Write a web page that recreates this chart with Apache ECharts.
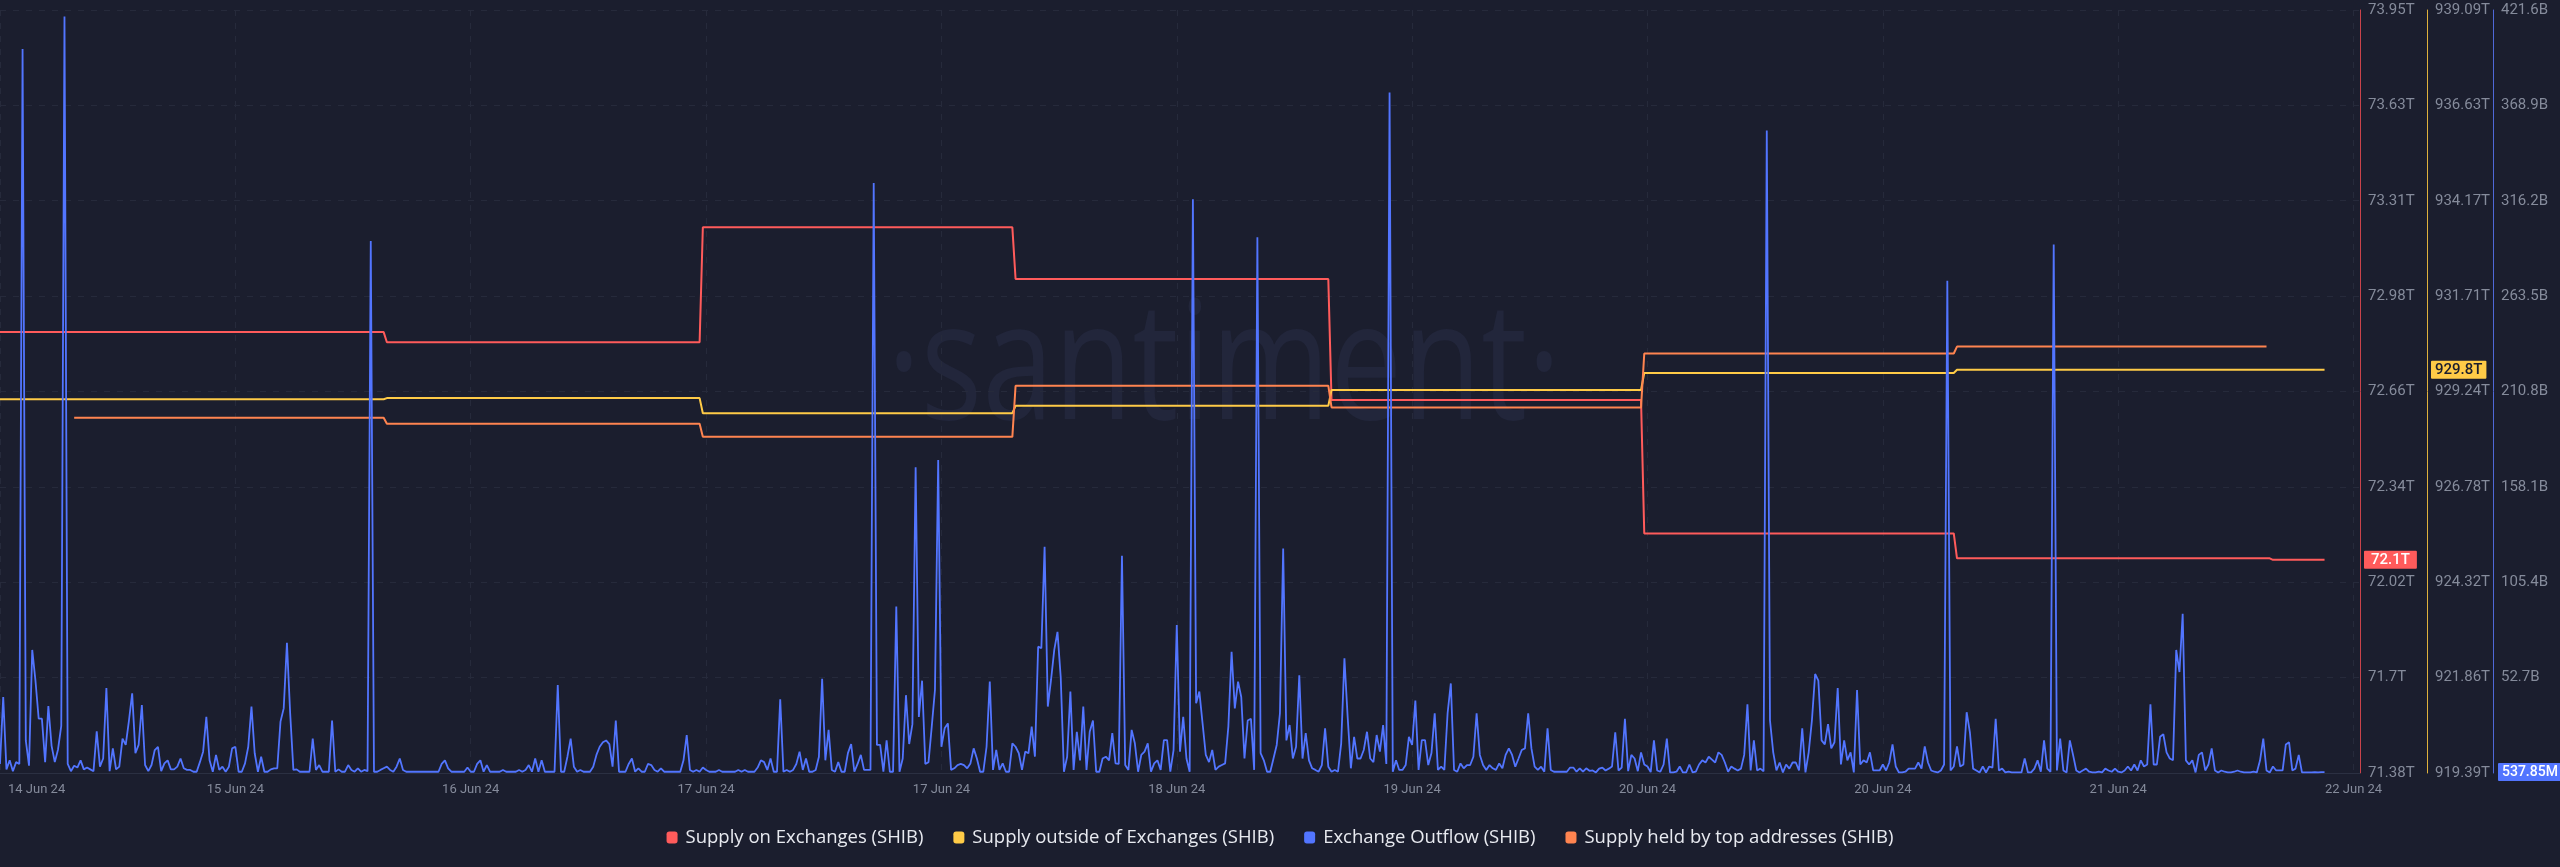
<!DOCTYPE html>
<html>
<head>
<meta charset="utf-8">
<script src="https://cdn.jsdelivr.net/npm/echarts@6/dist/echarts.min.js"></script>
<style>
html,body{margin:0;padding:0;background:#1b1e2e;}
#chart{width:2560px;height:867px;}
</style>
</head>
<body>
<div id="chart"></div>
<script>
// ---- tick labels ----
const xTickLabels = ['14 Jun 24','15 Jun 24','16 Jun 24','17 Jun 24','17 Jun 24','18 Jun 24','19 Jun 24','20 Jun 24','20 Jun 24','21 Jun 24','22 Jun 24'];
const redTickLabels = ['71.38T','71.7T','72.02T','72.34T','72.66T','72.98T','73.31T','73.63T','73.95T'];
const yelTickLabels = ['919.39T','921.86T','924.32T','926.78T','929.24T','931.71T','934.17T','936.63T','939.09T'];
const bluTickLabels = ['','52.7B','105.4B','158.1B','210.8B','263.5B','316.2B','368.9B','421.6B'];

// ---- series names ----
const seriesNames = ['Supply on Exchanges (SHIB)','Supply outside of Exchanges (SHIB)','Exchange Outflow (SHIB)','Supply held by top addresses (SHIB)'];

// ---- Supply on Exchanges (T), breakpoints at 15-min step index ----
const redIdx = [0,119,120,217,218,314,315,412,413,509,510,606,607,704,705,721];
const redVal = [72.865,72.865,72.831,72.831,73.218,73.218,73.044,73.044,72.636,72.636,72.187,72.187,72.103,72.103,72.098,72.098];

// ---- Supply outside of Exchanges (T) ----
const yelIdx = [0,119,120,217,218,314,315,412,413,509,510,606,607,721];
const yelVal = [929.04,929.04,929.07,929.07,928.68,928.68,928.87,928.87,929.28,929.28,929.72,929.72,929.80,929.80];

// ---- Supply held by top addresses (T, hidden axis) ----
const orgIdx = [23,119,120,217,218,314,315,412,413,509,510,606,607,703];
const orgVal = [928.56,928.56,928.41,928.41,928.07,928.07,929.39,929.39,928.83,928.83,930.22,930.22,930.40,930.40];

// ---- Exchange Outflow (B), one value per 15-min step ----
const bluVal = [
5,42,2,7,1,6,5,400,18,4,
68,51,30,30,6,37,15,6,13,26,
418,5,1,4,3,7,2,3,2,1,
23,3.5,8,47,1,13.6,2,3.5,19,15.5,
29,44,11,15.5,37.6,4.4,1,4.4,12.7,14.5,
1,5.3,7,2,2,3.5,8,2.6,1.7,1.7,
0.7,0.7,6,11.8,31,7,0.7,10,1.7,3.5,
0.7,3.5,13.6,14.5,0.7,0.7,5.3,14.5,36.7,10.9,
0.7,9,0.7,0.7,2,2.6,2.6,28.4,35.7,72,
33,1.7,2,0.7,0.7,0.7,0.7,19,1.7,4.4,
0.7,0.7,0.7,29,0.7,2,0.7,0.7,4.4,1.7,
0.7,2.6,0.7,1.7,1,294,0.7,0.7,1.7,2.6,
3.5,1.7,0.7,3.5,8,1.7,0.7,0.7,0.7,0.7,
0.7,0.7,0.7,0.7,0.7,0.7,0.7,5,7,2.6,
0.7,0.7,0.7,0.7,0.7,3,0.7,0.7,5,7,
0.7,4.4,0.7,0.7,0.7,0.7,1.7,0.7,0.7,0.7,
0.7,1.7,0.7,1.7,4.4,0.7,8,0.7,7,0.7,
0.7,0.7,0.7,48.6,0.7,0.7,9,19,3.5,0.7,
1.7,0.7,0.7,0.7,3.5,10,14.5,17,18,16,
3.5,29,0.7,0.7,0.7,5,8,0.7,2.6,0.7,
0.7,5,4.4,1.7,0.7,2.6,0.7,0.7,0.7,0.7,
0.7,0.7,7,21,1.7,0.7,1.7,0.7,3,1.7,
0.7,0.7,0.7,1.7,0.7,0.7,0.7,0.7,0.7,1.7,
0.7,1.7,0.7,0.7,0.7,3,7,6,1.7,8,
0.7,0.7,40.7,0.7,1.7,0.7,1.7,5,11.8,1.7,
8,0.7,0.7,1.7,9,52,7,23.8,1.7,0.7,
6,0.7,0.7,11,16,0.7,5,10,1.7,1.7,
1.7,326,15.5,15.5,0.7,18,0.7,0.7,92,0.7,
8,43,16,27,169,31,51,5,6,25.6,
46,173,14.5,24.7,27.4,1.7,2.6,4.4,5,4.4,
2.6,5.3,13.6,8,0.7,0.7,14.5,50.5,1.7,12.7,
1.7,5.3,0.7,0.7,16.4,14.5,10.9,1.7,11.8,10.9,
25.6,9,69.8,68.9,125,36.7,51.4,68,78,53,
0.7,9,45,1.7,22.8,7,36.7,1.7,22.8,29,
0.7,0.7,8,9,7,22,5.3,5,120,4.4,
1.7,23.8,16.4,0.7,10,11.8,16.4,0.7,5.3,7,
1.7,18.2,18.2,0.7,12.7,81.8,11.8,31,8,0.7,
317,38.5,45,27.4,10,6,12.7,1.7,3.5,4.4,
5.3,25.6,67,35.7,50.5,42,8,29,30,1.7,
296,11,7,0.7,0.7,8,15.5,33,124,18,
26.5,8,14.5,54,8,22,7,2.6,1.7,0.7,
4.4,24.7,3.5,0.7,1.7,0.7,16.4,63.4,31,2.6,
20,8,8,12.7,22.8,8,6,21,11.8,26.5,
5,376,0.7,7,1.7,1.7,4.4,20,15.5,40,
1.7,18.2,18.2,4.4,11,33,1.7,3.5,1.7,33,
49.5,1.7,0.7,5.3,2.6,4.4,4.4,9,33,10,
4.4,1.7,4.4,2.6,1.7,5.3,2.6,10,13.6,10,
3.5,8,12.7,13.6,33,13.6,3.5,1.7,3.5,0.7,
24.7,1.7,0.7,0.7,0.7,0.7,0.7,3,3,0.7,
2.6,0.7,2.6,1.2,1.4,0.3,2.4,3,1.4,2.4,
3.6,22.5,1.4,3,30,1,10,8,1,11.4,
4.7,3.6,0.5,18,1.4,0.7,4.7,19,0.3,0.3,
0.7,3.6,0.3,0.3,4.7,0.3,0.7,4.7,7,5.8,
9,7.4,5.8,11.4,10,5.8,0.7,3.6,2.4,1.4,
2.4,10,38,1.4,18,1.4,2.4,1,355,29,
11.4,1.4,5.8,0.3,4.7,2.4,5.8,5.8,1.4,24.7,
0.3,11.4,29,54.7,51,18,15.8,27,13.6,17,
47,4.7,18,7,11.4,0.3,45.8,4.7,7,5.8,
11.4,1.4,1.4,1.4,4.7,1.4,5.8,15.8,3.6,0.3,
0.3,0.7,2.4,2.4,2.4,5.8,2.4,14.7,5.8,1.4,
0.7,0.3,1.4,4.7,272,1.4,3.6,14.7,3.6,4.7,
33.6,22.5,2.4,1.4,0.3,3.6,0.3,3.6,3,30,
1.4,2.4,0.3,0.7,0.3,0.3,0.3,0.3,8,0.3,
0.3,2.4,7,0.7,18,2.4,0.7,292,1.4,19,
1.4,0.3,18,10,1.4,0.3,1.4,2.4,0.7,0.3,
0.3,0.7,0.3,2.4,1.4,0.7,2.4,0.7,0.3,1.4,
3.6,1.4,4.7,1.4,7,3.6,4.7,38,4.7,4.7,
20,21.4,11.4,8,7,68,55.8,88,7,4.7,
7,0.3,10,11.4,1.4,4.7,13.6,1.4,0.3,1.4,
0.7,0.3,0.3,0.7,1.4,0.7,0.3,0.3,0.3,0.7,
0.3,7,19,1.4,0.3,3.6,1.4,1.4,1.4,15.8,
17,1.4,2.4,10,0.3,0.3,0.3,0.3,0.5,0.3,
0.5,0.53785
];

// ---- axis ranges ----
const X_MIN = 0, X_MAX = 732, X_INT = 73;
const RED_MIN = 71.38, RED_MAX = 73.95;
const YEL_MIN = 919.39, YEL_MAX = 939.09;
const BLU_MIN = 0, BLU_MAX = 421.6;

const BG = '#1b1e2e';
const RED = '#ff5b5b', YEL = '#ffcb47', BLU = '#5275ff', ORG = '#ff8450';
const LABEL = '#858b9b';
const GRID = '#262a3b';
const FONT = 'Roboto, "Noto Sans", sans-serif';
const LEGEND_FONT = '"Open Sans", Roboto, sans-serif';

const pairs = (idx, val) => idx.map((x, i) => [x, val[i]]);
const redLast = redVal[redVal.length - 1];
const yelLast = yelVal[yelVal.length - 1];
const bluLast = bluVal[bluVal.length - 1];

function idxLabel(labels, min, max) {
  const step = (max - min) / (labels.length - 1);
  return function (v) {
    const k = Math.round((v - min) / step);
    if (Math.abs(v - (min + k * step)) > step * 1e-3) return '';
    return labels[k] !== undefined ? labels[k] : '';
  };
}

function yAxisDef(labels, min, max, color, offset, split) {
  return {
    type: 'value', position: 'right', offset: offset,
    min: min, max: max, interval: (max - min) / (labels.length - 1),
    axisLine: { show: true, onZero: false, lineStyle: { color: color, width: 1 } },
    axisTick: { show: false },
    splitLine: { show: split, lineStyle: { color: GRID, type: [6, 7], width: 1 } },
    axisLabel: { color: LABEL, fontSize: 15, fontFamily: FONT, margin: 8, formatter: idxLabel(labels, min, max) }
  };
}

function lastMark(text, bg, fg, offsetX, size, pad) {
  return {
    symbol: 'circle', symbolSize: 0, silent: true, animation: false,
    label: {
      show: true, position: 'right', distance: 4, offset: [offsetX, 0],
      formatter: () => text, backgroundColor: bg, color: fg,
      fontSize: size, fontWeight: 500, fontFamily: FONT, lineHeight: 15, padding: pad, borderRadius: 1
    }
  };
}

const chart = echarts.init(document.getElementById('chart'), null, { renderer: 'canvas' });

const redMark = lastMark(redLast.toFixed(1) + 'T', RED, '#ffffff', 0, 15, [2, 7, 1, 7]);
redMark.data = [{ coord: [X_MAX, redLast] }];
const yelMark = lastMark(yelLast.toFixed(1) + 'T', YEL, '#1b1e2e', 67, 15, [2, 4, 1, 4]);
yelMark.data = [{ coord: [X_MAX, yelLast] }];
const bluMark = lastMark((bluLast * 1000).toFixed(2) + 'M', BLU, '#ffffff', 134, 14, [2, 4, 1, 4]);
bluMark.data = [{ coord: [X_MAX, bluLast] }];

chart.setOption({
  backgroundColor: BG,
  animation: false,
  textStyle: { fontFamily: FONT },
  grid: { left: 0, right: 200, top: 10, bottom: 94, containLabel: false },
  graphic: [{
    type: 'text', x: 1224, y: 372, scaleX: 0.78, z: 0, silent: true,
    style: { text: '\u00B7santiment\u00B7', font: '400 165px "Open Sans", sans-serif', fill: '#22263b', align: 'center', verticalAlign: 'middle' }
  }],
  legend: {
    left: 'center', top: 823, itemWidth: 11, itemHeight: 12, itemGap: 30, icon: 'roundRect',
    selectedMode: false,
    textStyle: { color: '#e8eaf0', fontSize: 18.5, fontFamily: LEGEND_FONT, padding: [0, 0, 0, 3] },
    data: seriesNames
  },
  xAxis: {
    type: 'value', min: X_MIN, max: X_MAX, interval: X_INT,
    axisLine: { show: true, onZero: false, lineStyle: { color: '#2b3042' } },
    axisTick: { show: false },
    splitLine: { show: true, lineStyle: { color: GRID, type: [6, 7], width: 1 } },
    axisLabel: {
      color: LABEL, fontSize: 13, fontFamily: FONT, margin: 10, alignMinLabel: 'left',
      formatter: function (v) {
        const k = Math.round((v - X_MIN) / X_INT);
        if (Math.abs(v - (X_MIN + k * X_INT)) > 1e-6 || xTickLabels[k] === undefined) return '';
        return k === 0 ? '{f|' + xTickLabels[k] + '}' : xTickLabels[k];
      },
      rich: { f: { color: LABEL, fontSize: 13, fontFamily: FONT, padding: [0, 0, 0, 8] } }
    }
  },
  yAxis: [
    yAxisDef(redTickLabels, RED_MIN, RED_MAX, '#c9434b', 0, true),
    yAxisDef(yelTickLabels, YEL_MIN, YEL_MAX, '#e0b13c', 67, false),
    yAxisDef(bluTickLabels, BLU_MIN, BLU_MAX, '#4f68d8', 133, false),
    { type: 'value', show: false, position: 'right', min: YEL_MIN, max: YEL_MAX, axisLine: { onZero: false } }
  ],
  series: [
    { name: seriesNames[0], type: 'line', yAxisIndex: 0, data: pairs(redIdx, redVal), showSymbol: false, z: 2,
      lineStyle: { color: RED, width: 2 }, itemStyle: { color: RED }, markPoint: redMark },
    { name: seriesNames[1], type: 'line', yAxisIndex: 1, data: pairs(yelIdx, yelVal), showSymbol: false, z: 2,
      lineStyle: { color: YEL, width: 2 }, itemStyle: { color: YEL }, markPoint: yelMark },
    { name: seriesNames[3], type: 'line', yAxisIndex: 3, data: pairs(orgIdx, orgVal), showSymbol: false, z: 2,
      lineStyle: { color: ORG, width: 2 }, itemStyle: { color: ORG } },
    { name: seriesNames[2], type: 'line', yAxisIndex: 2, data: bluVal.map((v, i) => [i, v]), showSymbol: false, z: 3,
      sampling: 'none', lineStyle: { color: BLU, width: 1.8 }, itemStyle: { color: BLU }, markPoint: bluMark }
  ]
});
</script>
</body>
</html>
